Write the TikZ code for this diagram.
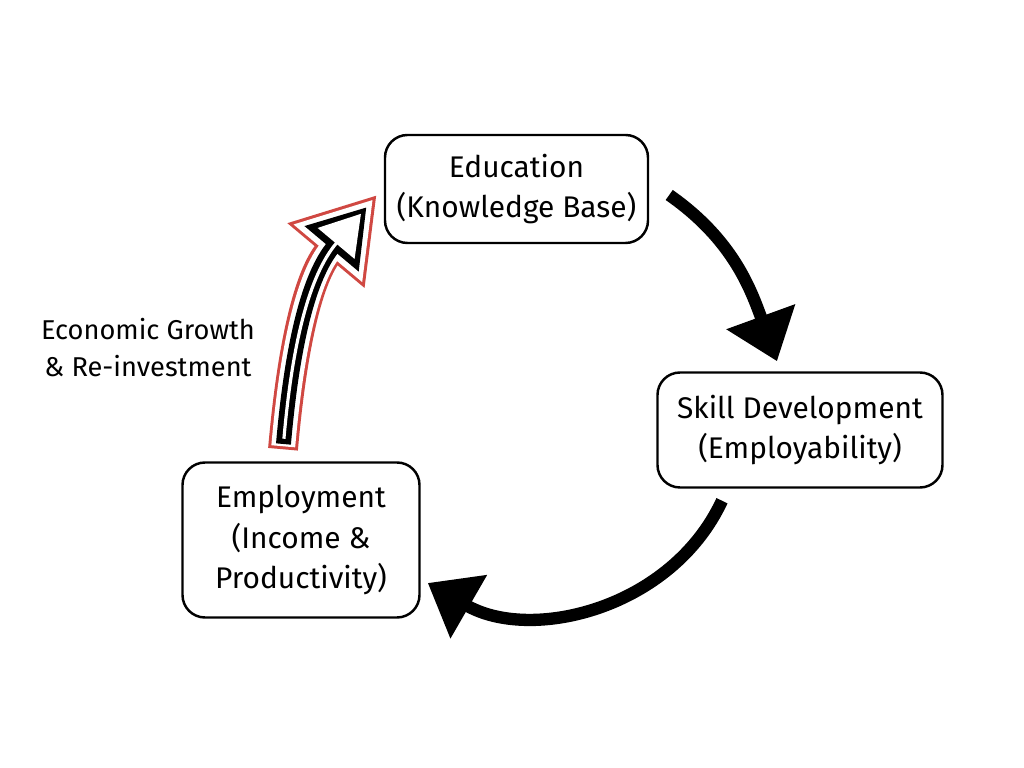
\documentclass[tikz,border=0pt]{standalone}
\usepackage{fontspec}
\setmainfont{Fira Sans}
\usetikzlibrary{arrows.meta}
\definecolor{growthred}{RGB}{208,72,66}
\begin{document}
\begin{tikzpicture}[
	box/.style={draw, line width=1.4pt, rounded corners=0.45cm, align=center,
		font=\fontsize{17}{23}\selectfont},
	cycle/.style={line width=7pt, -{Triangle[length=27pt,width=40pt]}},
	growthA/.style={growthred, line width=17pt, -{Triangle[length=45pt,width=54pt]}},
	growthB/.style={white, line width=13.6pt, shorten >=3.3pt, shorten <=1.7pt,
		-{Triangle[length=40pt,width=48pt]}},
	growthC/.style={black, line width=8.5pt, shorten >=9pt, shorten <=3pt,
		-{Triangle[length=31pt,width=38pt]}},
	growthD/.style={white, line width=1.8pt, shorten >=14pt, shorten <=6pt,
		-{Triangle[length=22pt,width=27pt]}}]
	\useasboundingbox (0, 0) rectangle (20.48, 15.36);
	\node[box, minimum width=5.26cm, minimum height=2.16cm] (edu) at (10.33, 11.58)
		{Education\\(Knowledge Base)};
	\node[box, minimum width=5.7cm, minimum height=2.3cm] (skill) at (16.0, 6.76)
		{Skill Development\\(Employability)};
	\node[box, minimum width=4.74cm, minimum height=3.1cm] (emp) at (6.02, 4.56)
		{Employment\\(Income \&\\Productivity)};
	\node[align=center, font=\fontsize{15.5}{21}\selectfont] (growth) at (2.96, 8.4)
		{Economic Growth\\\& Re-investment};

	\draw[cycle] ([xshift=0.4cm, yshift=-0.12cm]edu.east) to[out=-35, in=110]
		([xshift=-0.46cm, yshift=0.2cm]skill.north);
	\draw[cycle] ([xshift=-1.56cm, yshift=-0.24cm]skill.south) to[out=-115, in=-30]
		([xshift=0.14cm, yshift=-0.86cm]emp.east);

	\draw[growthA] ([xshift=-0.36cm, yshift=0.24cm]emp.north) to[out=85, in=230]
		([xshift=-0.14cm, yshift=-0.12cm]edu.west);
	\draw[growthB] ([xshift=-0.36cm, yshift=0.24cm]emp.north) to[out=85, in=230]
		([xshift=-0.14cm, yshift=-0.12cm]edu.west);
	\draw[growthC] ([xshift=-0.36cm, yshift=0.24cm]emp.north) to[out=85, in=230]
		([xshift=-0.14cm, yshift=-0.12cm]edu.west);
	\draw[growthD] ([xshift=-0.36cm, yshift=0.24cm]emp.north) to[out=85, in=230]
		([xshift=-0.14cm, yshift=-0.12cm]edu.west);
\end{tikzpicture}
\end{document}
